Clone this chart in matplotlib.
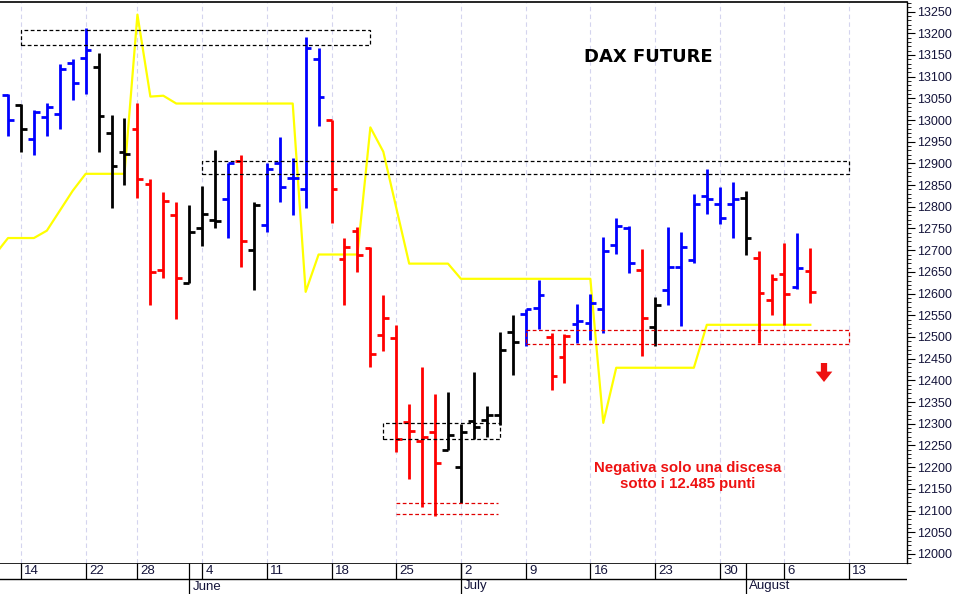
import matplotlib
matplotlib.use('Agg')
import numpy as np
import pandas as pd
from matplotlib import pyplot as plt
from matplotlib.patches import Rectangle
from matplotlib.ticker import MultipleLocator

plt.rcParams['font.family'] = ['Liberation Sans', 'DejaVu Sans']

# trading calendar (Whit Monday 21 May missing from the feed)
days = [d for d in pd.bdate_range('2018-05-11', '2018-08-17') if d != pd.Timestamp('2018-05-21')]
day_index = {d: i - 1 for i, d in enumerate(days)}   # 14 May -> 0

# daily bars 11 May .. 8 Aug
opens = [13058, 13035, 12957, 13006, 13013, 13132, 13144, 13123, 12971, 12927,
         12980, 12853, 12655, 12782, 12625, 12752, 12770, 12819, 12906, 12701,
         12759, 12900, 12867, 12842, 13140, 12999, 12680, 12745, 12706, 12505,
         12498, 12305, 12261, 12282, 12240, 12201, 12307, 12309, 12321, 12512,
         12553, 12567, 12501, 12454, 12531, 12533, 12565, 12713, 12752, 12655,
         12524, 12609, 12662, 12678, 12826, 12807, 12807, 12821, 12683, 12586,
         12644, 12614, 12653]
highs = [13061, 13038, 13022, 13040, 13130, 13141, 13211, 13155, 13012, 13005,
         13040, 12863, 12835, 12810, 12803, 12849, 12932, 12902, 12920, 12812,
         12900, 12962, 12913, 13192, 13165, 13001, 12727, 12754, 12708, 12597,
         12528, 12346, 12431, 12369, 12374, 12300, 12420, 12341, 12512, 12551,
         12565, 12632, 12510, 12507, 12577, 12600, 12731, 12775, 12756, 12703,
         12591, 12754, 12743, 12830, 12886, 12846, 12858, 12837, 12699, 12646,
         12717, 12740, 12706]
lows = [12964, 12927, 12920, 12964, 12980, 13047, 13059, 12927, 12798, 12851,
        12821, 12574, 12637, 12542, 12625, 12710, 12750, 12727, 12662, 12609,
        12743, 12810, 12780, 12798, 12987, 12763, 12574, 12650, 12431, 12468,
        12235, 12173, 12109, 12088, 12240, 12118, 12265, 12270, 12298, 12413,
        12478, 12519, 12378, 12394, 12487, 12494, 12510, 12692, 12648, 12457,
        12478, 12574, 12526, 12671, 12784, 12761, 12729, 12690, 12485, 12551,
        12528, 12611, 12579]
closes = [13001, 12980, 13019, 13030, 13118, 13086, 13162, 13010, 12895, 12922,
          12865, 12650, 12814, 12637, 12743, 12784, 12768, 12900, 12722, 12803,
          12888, 12846, 12867, 13165, 13054, 12840, 12708, 12690, 12461, 12544,
          12265, 12284, 12270, 12210, 12275, 12282, 12293, 12321, 12470, 12489,
          12565, 12597, 12411, 12503, 12537, 12579, 12697, 12756, 12671, 12544,
          12574, 12662, 12708, 12807, 12819, 12775, 12819, 12727, 12602, 12634,
          12600, 12660, 12604]
bar_colors = list('bkbbbbbkkkrrrrkkkbrkbbbbbrrrrrrrrrkkkkkkbbrrbbbbbrkbbbbbbkrrrbr')

# yellow indicator line (first point is 10 May, just off the left edge)
indicator = [12690, 12728, 12728, 12728, 12745, 12791, 12837, 12876, 12876, 12876,
             12876, 13243, 13054, 13056, 13038, 13038, 13038, 13038, 13038, 13038,
             13038, 13038, 13038, 13038, 12604, 12690, 12690, 12690, 12690, 12983,
             12927, 12798, 12669, 12669, 12669, 12669, 12634, 12634, 12634, 12634,
             12634, 12634, 12634, 12634, 12634, 12634, 12634, 12302, 12429, 12429,
             12429, 12429, 12429, 12429, 12429, 12528, 12528, 12528, 12528, 12528,
             12528, 12528, 12528, 12528]

week_labels = ['2018-05-14', '2018-05-22', '2018-05-28', '2018-06-04', '2018-06-11',
               '2018-06-18', '2018-06-25', '2018-07-02', '2018-07-09', '2018-07-16',
               '2018-07-23', '2018-07-30', '2018-08-06', '2018-08-13']
month_starts = ['2018-06-01', '2018-07-02', '2018-08-01']
month_names = ['June', 'July', 'August']

# zones drawn on the chart: (first day, last day, low, high)
black_boxes = [('2018-05-14', '2018-06-21', 13172, 13208),
               ('2018-06-04', '2018-08-13', 12875, 12905),
               ('2018-06-22', '2018-07-05', 12264, 12302)]
red_box = ('2018-07-09', '2018-08-13', 12484, 12516)
red_lines = [12092, 12118]
red_lines_span = ('2018-06-25', '2018-07-04')

colmap = {'b': '#0000ff', 'k': '#000000', 'r': '#ff0000'}
x = np.arange(len(opens)) - 1
cols = [colmap[c] for c in bar_colors]

W, H = 957, 594
fig = plt.figure(figsize=(W / 100, H / 100), dpi=100)
ax = fig.add_axes([0, 31 / H, 907 / W, (563 - 2) / H])
ax.set_xlim(-1.62, 68.47)
ax.set_ylim(11979, 13272)

week_pos = [day_index[pd.Timestamp(d)] for d in week_labels]
ax.vlines(week_pos, 11979, 13272, colors='#d4d4ee', linestyles=(0, (4, 3)), lw=0.8, zorder=0)

ax.plot(np.arange(len(indicator)) - 2, indicator, color='#ffff00', lw=1.6, zorder=2)

ax.vlines(x, lows, highs, colors=cols, lw=2.0, zorder=3)
ax.hlines(opens, x - 0.45, x, colors=cols, lw=2.0, zorder=3)
ax.hlines(closes, x, x + 0.45, colors=cols, lw=2.0, zorder=3)

for a, b, lo, hi in black_boxes:
    x0, x1 = day_index[pd.Timestamp(a)], day_index[pd.Timestamp(b)]
    ax.add_patch(Rectangle((x0, lo), x1 - x0, hi - lo, fill=False, ec='black',
                           lw=0.9, ls=(0, (3, 2)), zorder=4))
x0, x1 = day_index[pd.Timestamp(red_box[0])], day_index[pd.Timestamp(red_box[1])]
ax.add_patch(Rectangle((x0, red_box[2]), x1 - x0, red_box[3] - red_box[2], fill=False,
                       ec='#e00000', lw=0.9, ls=(0, (3, 2)), zorder=4))
ax.hlines(red_lines, day_index[pd.Timestamp(red_lines_span[0])],
          day_index[pd.Timestamp(red_lines_span[1])] + 0.9,
          colors='#e00000', lw=0.9, linestyles=(0, (3, 2)), zorder=4)

ax.yaxis.tick_right()
ax.set_yticks(range(12000, 13251, 50))
ax.yaxis.set_minor_locator(MultipleLocator(10))
ax.tick_params(axis='y', which='major', direction='out', length=6, width=0.8,
               labelsize=9, labelcolor='#14143a', pad=1)
ax.tick_params(axis='y', which='minor', direction='out', length=3, width=0.6)
ax.set_xticks([])
for s in ['left', 'bottom']:
    ax.spines[s].set_visible(False)
ax.spines['top'].set_linewidth(1.2)
ax.spines['right'].set_linewidth(1.0)

# date strip under the chart
ax2 = fig.add_axes([0, 0, 907 / W, 31 / H])
ax2.set_xlim(ax.get_xlim())
ax2.set_ylim(0, 31)
ax2.axis('off')
ax2.axhline(31, color='black', lw=1.2)
ax2.axhline(15.5, color='black', lw=1.0)
ax2.vlines(week_pos, 15.5, 31, colors='black', lw=0.9)
for p, d in zip(week_pos, week_labels):
    ax2.text(p + 0.25, 23, str(pd.Timestamp(d).day), ha='left', va='center',
             fontsize=9.5, color='#14143a')
month_pos = [day_index[pd.Timestamp(d)] for d in month_starts]
ax2.vlines(month_pos, 0, 31, colors='black', lw=0.9)
for p, name in zip(month_pos, month_names):
    ax2.text(p + 0.25, 7.5, name, ha='left', va='center', fontsize=9.5, color='#14143a')

fig.text(648 / W, 1 - 57 / H, 'DAX FUTURE', ha='center', va='center',
         fontsize=13, fontweight='bold', family='DejaVu Sans', color='black')
fig.text(688 / W, 1 - 476 / H, 'Negativa solo una discesa\nsotto i 12.485 punti',
         ha='center', va='center', fontsize=10.8, fontweight='bold', color='#ee1111',
         linespacing=1.1)
ax.annotate('', xy=(824, H - 382), xytext=(824, H - 363), xycoords='figure pixels',
            textcoords='figure pixels',
            arrowprops=dict(arrowstyle='simple,head_width=0.8,head_length=0.5,tail_width=0.3',
                            color='#ee1111', lw=0, mutation_scale=15,
                            shrinkA=0, shrinkB=0))

fig.savefig('out.png', dpi=100)
